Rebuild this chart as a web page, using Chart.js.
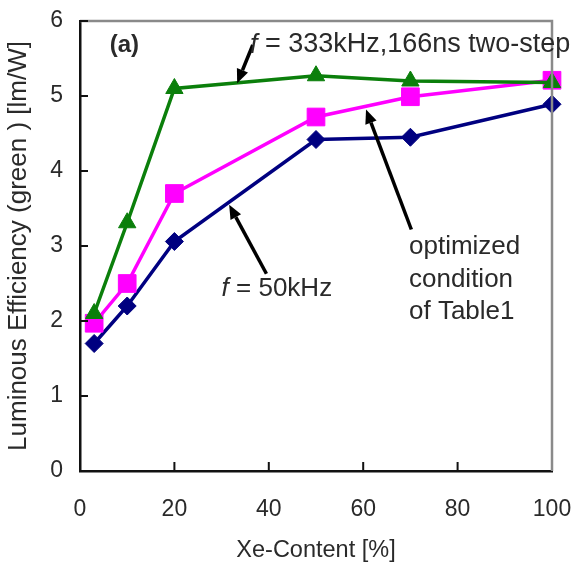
<!DOCTYPE html>
<html>
<head>
<meta charset="utf-8">
<script src="https://cdn.jsdelivr.net/npm/chart.js@4/dist/chart.umd.min.js"></script>
<style>
  html, body { margin: 0; padding: 0; background: #fff; }
  #wrap { width: 574px; height: 571px; }
</style>
</head>
<body>
<div id="wrap"><canvas id="c" width="574" height="571"></canvas></div>
<script>
const xeContent = [3, 10, 20, 50, 70, 100];
const twoStep333 = [2.1, 3.31, 5.1, 5.27, 5.2, 5.18];
const optimizedTable1 = [1.97, 2.5, 3.7, 4.72, 4.99, 5.21];
const f50kHz = [1.7, 2.2, 3.06, 4.42, 4.45, 4.89];
const xTicks = [0, 20, 40, 60, 80, 100];
const yTicks = [0, 1, 2, 3, 4, 5, 6];

const FONT = "'Liberation Sans', Arial, sans-serif";
const TXT = '#2a2a2a';

function pts(ys) { return xeContent.map((x, i) => ({ x: x, y: ys[i] })); }

// annotation anchors in data units
const arrows = [
  { from: [36.6, 5.68], to: [33.3, 5.17] },
  { from: [70.2, 3.22], to: [60.6, 4.82] },
  { from: [39.5, 2.63], to: [31.6, 3.55] }
];
const labels = [
  { x: 6.3, y: 5.68, size: 24, parts: [{ t: '(a)', s: 'bold' }] },
  { x: 36.0, y: 5.68, size: 27, parts: [{ t: 'f', s: 'italic' }, { t: ' = 333kHz,166ns two-step', s: '' }] },
  { x: 30.0, y: 2.43, size: 26, parts: [{ t: 'f', s: 'italic' }, { t: ' = 50kHz', s: '' }] },
  { x: 69.7, y: 2.99, size: 26, parts: [{ t: 'optimized', s: '' }] },
  { x: 69.7, y: 2.55, size: 26, parts: [{ t: 'condition', s: '' }] },
  { x: 69.7, y: 2.12, size: 26, parts: [{ t: 'of Table1', s: '' }] }
];

const decor = {
  id: 'decor',
  afterDraw(chart) {
    const ctx = chart.ctx, xs = chart.scales.x, ys = chart.scales.y, a = chart.chartArea;
    ctx.save();
    // top and right frame (grey)
    ctx.strokeStyle = '#8a8a8a';
    ctx.lineWidth = 2.5;
    ctx.beginPath();
    ctx.moveTo(a.left, a.top); ctx.lineTo(a.right, a.top); ctx.lineTo(a.right, a.bottom);
    ctx.stroke();
    // inward ticks
    ctx.strokeStyle = '#111';
    ctx.lineWidth = 2;
    ctx.beginPath();
    yTicks.forEach(v => {
      if (v === 0) return;
      const py = ys.getPixelForValue(v);
      ctx.moveTo(a.left, py); ctx.lineTo(a.left + 8, py);
    });
    xTicks.forEach(v => {
      if (v === 0 || v === 100) return;
      const px = xs.getPixelForValue(v);
      ctx.moveTo(px, a.bottom); ctx.lineTo(px, a.bottom - 9);
    });
    ctx.stroke();
    // arrows
    ctx.fillStyle = '#000';
    ctx.strokeStyle = '#000';
    arrows.forEach(ar => {
      const x1 = xs.getPixelForValue(ar.from[0]), y1 = ys.getPixelForValue(ar.from[1]);
      const x2 = xs.getPixelForValue(ar.to[0]), y2 = ys.getPixelForValue(ar.to[1]);
      const ang = Math.atan2(y2 - y1, x2 - x1);
      const hl = 14, hw = 6;
      const bx = x2 - Math.cos(ang) * hl, by = y2 - Math.sin(ang) * hl;
      ctx.lineWidth = 3.5;
      ctx.beginPath(); ctx.moveTo(x1, y1); ctx.lineTo(bx, by); ctx.stroke();
      ctx.beginPath();
      ctx.moveTo(x2, y2);
      ctx.lineTo(bx + Math.sin(ang) * hw, by - Math.cos(ang) * hw);
      ctx.lineTo(bx - Math.sin(ang) * hw, by + Math.cos(ang) * hw);
      ctx.closePath(); ctx.fill();
    });
    // text labels
    ctx.fillStyle = TXT;
    ctx.textBaseline = 'middle';
    ctx.textAlign = 'left';
    labels.forEach(l => {
      let px = xs.getPixelForValue(l.x);
      const py = ys.getPixelForValue(l.y);
      l.parts.forEach(p => {
        ctx.font = (p.s ? p.s + ' ' : '') + l.size + 'px ' + FONT;
        ctx.fillText(p.t, px, py);
        px += ctx.measureText(p.t).width;
      });
    });
    ctx.restore();
  }
};

new Chart(document.getElementById('c'), {
  type: 'line',
  data: {
    datasets: [
      {
        label: 'f = 333kHz, 166ns two-step',
        data: pts(twoStep333),
        borderColor: '#0b7f0b', backgroundColor: '#0b7f0b',
        borderWidth: 3.5, pointStyle: 'triangle', pointRadius: 10,
        pointBorderWidth: 1, tension: 0, clip: false
      },
      {
        label: 'optimized condition of Table1',
        data: pts(optimizedTable1),
        borderColor: '#ff00ff', backgroundColor: '#ff00ff',
        borderWidth: 3.5, pointStyle: 'rect', pointRadius: 12.5,
        pointBorderWidth: 1, tension: 0, clip: false
      },
      {
        label: 'f = 50kHz',
        data: pts(f50kHz),
        borderColor: '#000080', backgroundColor: '#000080',
        borderWidth: 3.5, pointStyle: 'rectRot', pointRadius: 9,
        pointBorderWidth: 1, tension: 0, clip: false
      }
    ]
  },
  options: {
    responsive: false,
    animation: false,
    devicePixelRatio: 1,
    layout: { padding: { top: 21, right: 0, left: 0, bottom: 0 } },
    plugins: { legend: { display: false }, tooltip: { enabled: false } },
    scales: {
      x: {
        type: 'linear', min: 0, max: 100,
        afterBuildTicks(s) { s.ticks = xTicks.map(v => ({ value: v })); },
        afterFit(s) { s.height = 100; s.paddingRight = 22; s.paddingLeft = 0; },
        grid: { display: false },
        border: { display: true, color: '#111', width: 2.5 },
        ticks: { color: TXT, font: { family: FONT, size: 23 }, padding: 17, maxRotation: 0 },
        title: { display: true, text: 'Xe-Content [%]', color: TXT, font: { family: FONT, size: 23.5 }, padding: { top: 0, bottom: 6 } }
      },
      y: {
        type: 'linear', min: 0, max: 6,
        afterBuildTicks(s) { s.ticks = yTicks.map(v => ({ value: v })); },
        afterFit(s) { s.width = 80; s.paddingTop = 0; s.paddingBottom = 0; },
        grid: { display: false },
        border: { display: true, color: '#111', width: 2.5 },
        ticks: { color: TXT, font: { family: FONT, size: 23 }, padding: 9 },
        title: { display: true, text: 'Luminous Efficiency (green ) [lm/W]', color: TXT, font: { family: FONT, size: 26 }, padding: { top: 3, bottom: 0 } }
      }
    }
  },
  plugins: [decor]
});
</script>
</body>
</html>
